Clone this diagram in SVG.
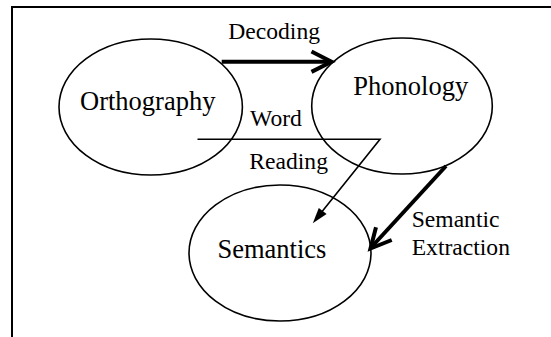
<svg xmlns="http://www.w3.org/2000/svg" width="551" height="337" viewBox="0 0 551 337">
<style>
.node{fill:#fff;stroke:#000;stroke-width:1.6}
.nt{font-family:"Liberation Serif","Times New Roman",serif;font-size:26.5px;fill:#000}
.lt{font-family:"Liberation Serif","Times New Roman",serif;font-size:23.6px;fill:#000}
.thick{fill:none;stroke:#000;stroke-width:4}
.thin{fill:none;stroke:#000;stroke-width:1.6}
</style>
<rect x="0" y="0" width="551" height="337" fill="#fff"/>
<path d="M12,337 V7 H551" fill="none" stroke="#000" stroke-width="2"/>
<g id="orthography">
<ellipse class="node" cx="150.7" cy="107" rx="91.7" ry="68"/>
<text class="nt" x="80" y="110">Orthography</text>
</g>
<g id="phonology">
<ellipse class="node" cx="402" cy="106" rx="90.3" ry="68"/>
<text class="nt" x="353.3" y="95">Phonology</text>
</g>
<g id="semantics">
<ellipse class="node" cx="280" cy="253" rx="91" ry="68"/>
<text class="nt" x="217.5" y="258">Semantics</text>
</g>
<g id="connectors">
<line class="thick" x1="221.7" y1="61.7" x2="330" y2="61.7"/>
<polyline class="thick" points="311.5,51.5 331.5,61.7 311.5,71.9"/>
<polyline class="thin" points="197.5,139.3 380,139.3 318.5,216"/>
<polygon points="312.8,223.2 318.8,207.9 326.6,214.1" fill="#000"/>
<line class="thick" x1="446" y1="166" x2="372" y2="246.5"/>
<polyline class="thick" points="376,227.3 370.5,248.5 391.7,240"/>
</g>
<g id="labels">
<text class="lt" x="228.3" y="39.3">Decoding</text>
<text class="lt" x="250" y="126">Word</text>
<text class="lt" x="249.3" y="169.3">Reading</text>
<text class="lt" x="411.7" y="227">Semantic</text>
<text class="lt" x="411.7" y="255">Extraction</text>
</g>
</svg>
